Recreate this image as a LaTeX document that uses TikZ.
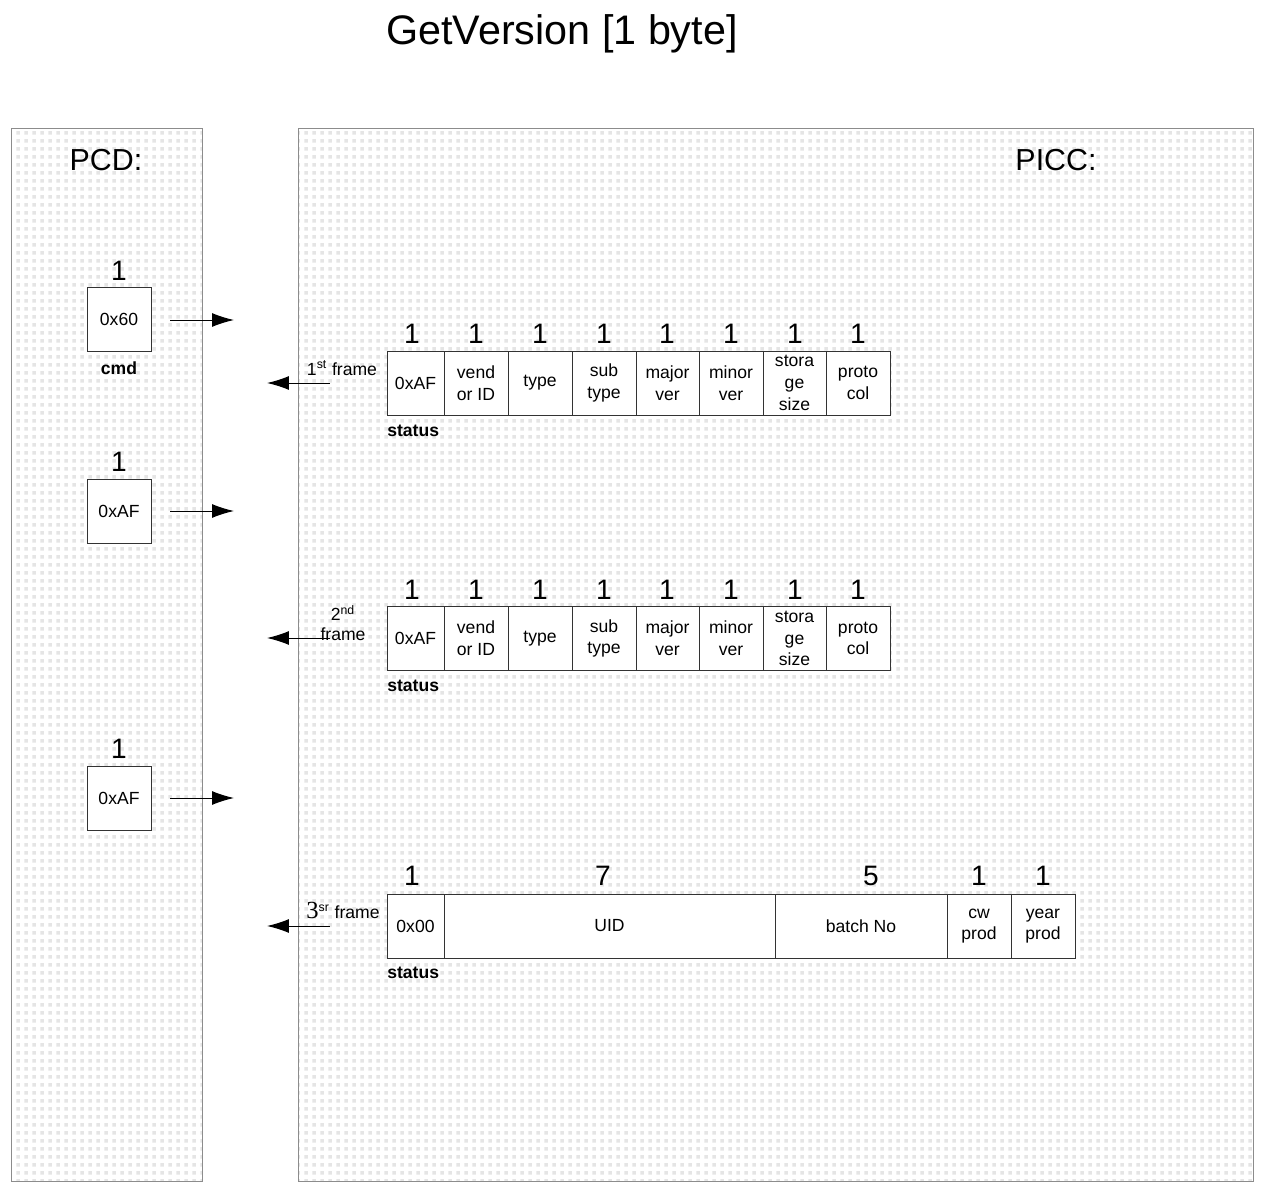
\documentclass[tikz,border=0pt]{standalone}
\usepackage{fontspec}
\setmainfont{Liberation Sans}
\newfontfamily\seriffont{Liberation Serif}
\usetikzlibrary{patterns.meta,arrows.meta}
\tikzdeclarepattern{name=pdots,type=uncolored,
  bounding box={(0,0) and (0.16cm,0.16cm)},
  tile size={(0.16cm,0.16cm)},
  code={\fill (0.03cm,0.03cm) rectangle (0.1cm,0.1cm);}}
\begin{document}
\begin{tikzpicture}[x=0.02cm,y=-0.02cm,
  panel/.style={draw=black!45,line width=0.5pt},
  cell/.style={draw=black!80,line width=0.45pt,fill=white,inner sep=0pt,
    minimum height=1.28cm,align=center,font=\fontsize{10}{12.4}\selectfont},
  num/.style={inner sep=0pt,font=\fontsize{16}{18}\selectfont},
  lbl/.style={inner sep=0pt,font=\bfseries\fontsize{10}{12}\selectfont},
  flbl/.style={inner sep=0pt,align=center,font=\fontsize{10}{11.5}\selectfont},
  msg/.style={line width=0.55pt,-{Latex[length=0.44cm,width=0.28cm]}}]
\useasboundingbox[fill=white] (0,0) rectangle (1265,1192);
% title
\node[inner sep=0pt,font=\fontsize{23.5}{26}\selectfont] (title) at (562,34) {GetVersion [1 byte]};
% panels
\path[pattern=pdots,pattern color=black!10] (11,128) rectangle (202,1181);
\draw[panel] (11,128) rectangle (202,1181);
\path[pattern=pdots,pattern color=black!10] (298,128) rectangle (1253,1181);
\draw[panel] (298,128) rectangle (1253,1181);
\node[inner sep=0pt,font=\fontsize{17.3}{20}\selectfont] (pcd) at (106,160) {PCD:};
\node[inner sep=0pt,font=\fontsize{17.3}{20}\selectfont] (picc) at (1056,160) {PICC:};
% PCD boxes
\node[cell,minimum width=1.28cm] (c1) at (119,319.5) {0x60};
\node[num] (c1n) at (119,271) {1};
\node[lbl] (c1l) at (119,368) {cmd};
\node[cell,minimum width=1.28cm] (c2) at (119,511) {0xAF};
\node[num] (c2n) at (119,462) {1};
\node[cell,minimum width=1.28cm] (c3) at (119,798) {0xAF};
\node[num] (c3n) at (119,749) {1};
\coordinate (a1s) at (170,320); \coordinate (a1e) at (234,320);
\coordinate (a2s) at (170,511); \coordinate (a2e) at (234,511);
\coordinate (a3s) at (170,798); \coordinate (a3e) at (234,798);
\draw[msg] (a1s) -- (a1e);
\draw[msg] (a2s) -- (a2e);
\draw[msg] (a3s) -- (a3e);
% frames 1 and 2
\foreach \fy/\ny/\sy/\f in {383/334/431/A,638.5/590/686/B}{
  \node[cell,minimum width=1.14cm] (\f1) at (415.5,\fy) {0xAF};
  \node[cell,minimum width=1.28cm] (\f2) at (476,\fy) {vend\\or ID};
  \node[cell,minimum width=1.28cm] (\f3) at (540,\fy) {type};
  \node[cell,minimum width=1.28cm] (\f4) at (604,\fy) {sub\\type};
  \node[cell,minimum width=1.26cm] (\f5) at (667.5,\fy) {major\\ver};
  \node[cell,minimum width=1.28cm] (\f6) at (731,\fy) {minor\\ver};
  \node[cell,minimum width=1.26cm] (\f7) at (794.5,\fy) {stora\\ge\\size};
  \node[cell,minimum width=1.28cm] (\f8) at (858,\fy) {proto\\col};
  \foreach \i/\x in {1/412,2/476,3/540,4/604,5/667,6/731,7/795,8/858}{
    \node[num] (\f n\i) at (\x,\ny) {1};
  }
  \node[lbl,anchor=west] (\f s) at (387,\sy) {status};
}
% frame 3
\node[cell,minimum width=1.14cm] (C1) at (415.5,926) {0x00};
\node[cell,minimum width=6.62cm] (C2) at (609.5,926) {UID};
\node[cell,minimum width=3.44cm] (C3) at (861,926) {batch No};
\node[cell,minimum width=1.28cm] (C4) at (979,926) {cw\\prod};
\node[cell,minimum width=1.28cm] (C5) at (1043,926) {year\\prod};
\node[num] (Cn1) at (412,876) {1};
\node[num] (Cn2) at (603,876) {7};
\node[num] (Cn3) at (871,876) {5};
\node[num] (Cn4) at (979,876) {1};
\node[num] (Cn5) at (1043,876) {1};
\node[lbl,anchor=west] (Cs) at (387,973) {status};
% responses
\coordinate (r1s) at (330,383); \coordinate (r1e) at (267,383);
\coordinate (r2s) at (330,638); \coordinate (r2e) at (267,638);
\coordinate (r3s) at (330,926); \coordinate (r3e) at (267,926);
\draw[msg] (r1s) -- (r1e);
\draw[msg] (r2s) -- (r2e);
\draw[msg] (r3s) -- (r3e);
\node[flbl] (f1l) at (342,368) {1\textsuperscript{st} frame};
\node[flbl] (f2l) at (343,623) {2\textsuperscript{nd}\\frame};
\node[flbl] (f3l) at (343,910) {{\seriffont\fontsize{14}{14}\selectfont 3}\textsuperscript{sr} frame};
\end{tikzpicture}
\end{document}
